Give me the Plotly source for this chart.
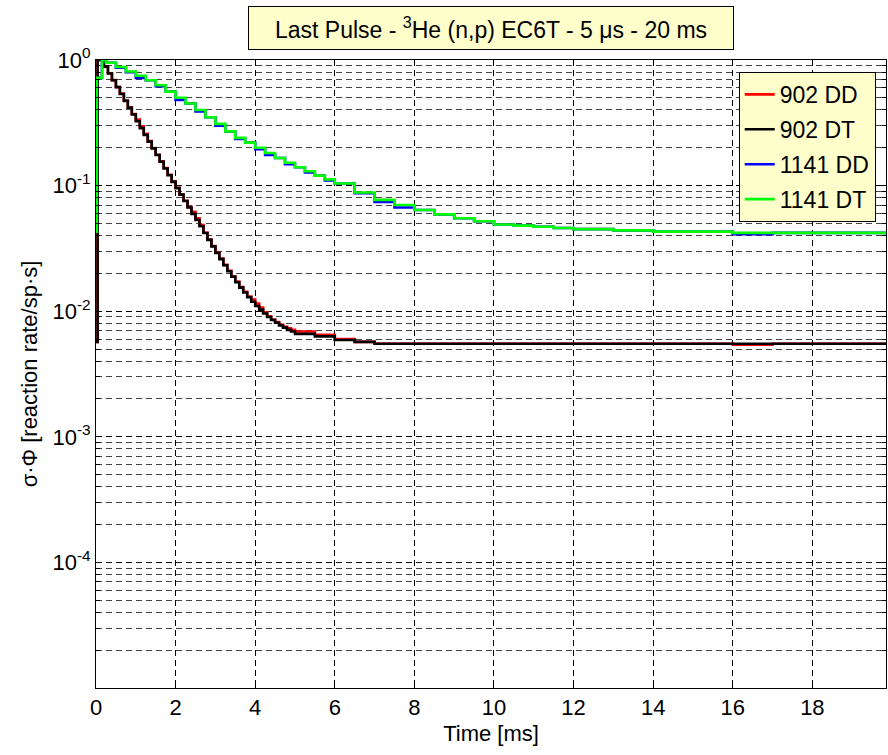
import plotly.graph_objects as go

# ---------------- data ----------------
t_902 = [0.0, 0.04, 0.2, 0.3, 0.4, 0.5, 0.6, 0.7, 0.8, 0.9, 1.0,
         1.1, 1.2, 1.3, 1.4, 1.5, 1.6, 1.7, 1.8, 1.9, 2.0,
         2.1, 2.2, 2.3, 2.4, 2.5, 2.6, 2.7, 2.8, 2.9, 3.0,
         3.1, 3.2, 3.3, 3.4, 3.5, 3.6, 3.7, 3.8, 3.9, 4.0,
         4.1, 4.2, 4.3, 4.4, 4.5, 4.6, 4.7, 4.8, 4.9, 5.0,
         5.5, 6.0, 6.5, 7.0, 8.0, 9.0, 10.0, 11.0, 12.0, 13.0,
         14.0, 15.0, 16.0, 17.0, 18.0, 19.0, 20.0]

v_902_DT = [0.0057, 1.0, 0.886, 0.781, 0.689, 0.608, 0.536, 0.473, 0.417, 0.368, 0.325,
            0.287, 0.253, 0.224, 0.198, 0.175, 0.155, 0.137, 0.121, 0.107, 0.0955,
            0.0847, 0.0753, 0.0670, 0.0596, 0.0532, 0.0475, 0.0419, 0.0370, 0.0328, 0.0291,
            0.0260, 0.0232, 0.0208, 0.0188, 0.0170, 0.0154, 0.0141, 0.0129, 0.0119, 0.0110,
            0.0103, 0.0096, 0.0090, 0.0085, 0.0081, 0.0077, 0.0074, 0.0071, 0.0069, 0.0066,
            0.0063, 0.0059, 0.0057, 0.0055, 0.0055, 0.0055, 0.0055, 0.0055, 0.0055, 0.0055,
            0.0055, 0.0055, 0.0055, 0.0055, 0.0055, 0.0055, 0.0055]

v_902_DD = [0.0057, 1.0, 0.890, 0.785, 0.692, 0.610, 0.540, 0.476, 0.420, 0.372, 0.335,
            0.297, 0.258, 0.226, 0.199, 0.176, 0.156, 0.138, 0.122, 0.108, 0.0962,
            0.0850, 0.0757, 0.0675, 0.0620, 0.0550, 0.0485, 0.0421, 0.0372, 0.0330, 0.0293,
            0.0262, 0.0234, 0.0210, 0.0190, 0.0172, 0.0156, 0.0143, 0.0131, 0.0124, 0.0115,
            0.0107, 0.0098, 0.0091, 0.0086, 0.0082, 0.0078, 0.0075, 0.0073, 0.0071, 0.0069,
            0.0065, 0.0060, 0.0057, 0.0055, 0.0055, 0.0055, 0.0055, 0.0055, 0.0055, 0.0055,
            0.0055, 0.0055, 0.0054, 0.0055, 0.0055, 0.0055, 0.0055]

t_1141 = [0.0, 0.02, 0.15, 0.25, 0.5, 0.75, 1.0, 1.25, 1.5, 1.75, 2.0,
          2.25, 2.5, 2.75, 3.0, 3.25, 3.5, 3.75, 4.0, 4.25, 4.5,
          4.75, 5.0, 5.25, 5.5, 5.75, 6.0, 6.5, 7.0, 7.5, 8.0,
          8.5, 9.0, 9.5, 10.0, 10.5, 11.0, 11.5, 12.0, 13.0, 14.0,
          15.0, 16.0, 17.0, 18.0, 19.0, 20.0]

v_1141_DT = [0.043, 0.72, 1.0, 0.95, 0.88, 0.81, 0.75, 0.69, 0.63, 0.56, 0.50,
             0.45, 0.40, 0.35, 0.31, 0.27, 0.24, 0.22, 0.20, 0.182, 0.166,
             0.152, 0.140, 0.130, 0.120, 0.112, 0.104, 0.088, 0.077, 0.070, 0.064,
             0.059, 0.055, 0.052, 0.049, 0.048, 0.047, 0.046, 0.045, 0.044, 0.043,
             0.043, 0.042, 0.042, 0.042, 0.042, 0.042]

v_1141_DD = [0.043, 0.72, 1.0, 0.95, 0.87, 0.80, 0.72, 0.69, 0.62, 0.56, 0.48,
             0.45, 0.39, 0.35, 0.30, 0.27, 0.235, 0.22, 0.195, 0.175, 0.166,
             0.148, 0.140, 0.127, 0.120, 0.110, 0.104, 0.087, 0.074, 0.067, 0.064,
             0.059, 0.055, 0.052, 0.049, 0.048, 0.047, 0.046, 0.045, 0.044, 0.043,
             0.043, 0.041, 0.042, 0.042, 0.042, 0.042]

series_names = ["902 DD", "902 DT", "1141 DD", "1141 DT"]
x_ticks = [0, 2, 4, 6, 8, 10, 12, 14, 16, 18]
y_ticks = [1e-4, 1e-3, 1e-2, 1e-1, 1e0]
y_tick_labels = ["10<sup>-4</sup>", "10<sup>-3</sup>", "10<sup>-2</sup>",
                 "10<sup>-1</sup>", "10<sup>0</sup>"]
decade_exps = [-5, -4, -3, -2, -1]
mantissas = [2, 3, 4, 5, 6, 7, 8, 9]

# ---------------- figure ----------------
FONT = "Liberation Sans, Arial, sans-serif"
colors = ["#ff0000", "#000000", "#0000ff", "#00ff00"]
xs = [t_902, t_902, t_1141, t_1141]
ys = [v_902_DD, v_902_DT, v_1141_DD, v_1141_DT]

fig = go.Figure()
for name, c, x, y in zip(series_names, colors, xs, ys):
    fig.add_trace(go.Scatter(
        x=x, y=y, mode="lines", name=name, legendgroup=name,
        line=dict(color=c, width=2.6, shape="hv"),
    ))

minor_vals = [m * 10.0 ** e for e in decade_exps for m in mantissas]
grid_dash = "6px,4px"

fig.update_layout(
    width=888, height=755,
    margin=dict(l=96, r=2, t=60, b=67),
    paper_bgcolor="white", plot_bgcolor="white",
    font=dict(family=FONT, size=22, color="black"),
    showlegend=True,
    legend=dict(
        x=0.987, xanchor="right", y=0.981, yanchor="top",
        bgcolor="#ffffcc", bordercolor="black", borderwidth=1,
        font=dict(family=FONT, size=23, color="black"),
        tracegroupgap=2,
    ),
    annotations=[dict(
        text="Last Pulse - <sup>3</sup>He (n,p) EC6T - 5 μs - 20 ms",
        xref="paper", yref="paper", x=0.5, y=1.051,
        xanchor="center", yanchor="middle", showarrow=False,
        bgcolor="#ffffcc", bordercolor="black", borderwidth=1,
        width=482, height=40, borderpad=1,
        font=dict(family=FONT, size=23, color="black"),
    )],
)

fig.update_xaxes(
    range=[0, 19.85], tickmode="array", tickvals=x_ticks,
    ticks="inside", ticklen=5, tickcolor="black",
    showline=True, linecolor="black", linewidth=1, mirror="ticks",
    showgrid=True, gridcolor="black", gridwidth=1, griddash=grid_dash,
    zeroline=False,
    title=dict(text="Time [ms]", font=dict(family=FONT, size=22), standoff=6),
    tickfont=dict(family=FONT, size=22),
)

fig.update_yaxes(
    type="log", range=[-5, 0],
    tickmode="array", tickvals=y_ticks, ticktext=y_tick_labels,
    ticks="inside", ticklen=6, tickcolor="black",
    showline=True, linecolor="black", linewidth=1, mirror="ticks",
    showgrid=True, gridcolor="black", gridwidth=1, griddash=grid_dash,
    zeroline=False,
    minor=dict(tickmode="array", tickvals=minor_vals, ticks="inside", ticklen=4,
               tickcolor="black", showgrid=True, gridcolor="#444444",
               gridwidth=1, griddash=grid_dash),
    title=dict(text="σ·Φ [reaction rate/sp·s]", font=dict(family=FONT, size=22), standoff=8),
    tickfont=dict(family=FONT, size=22),
)

fig.write_html("out.html")
